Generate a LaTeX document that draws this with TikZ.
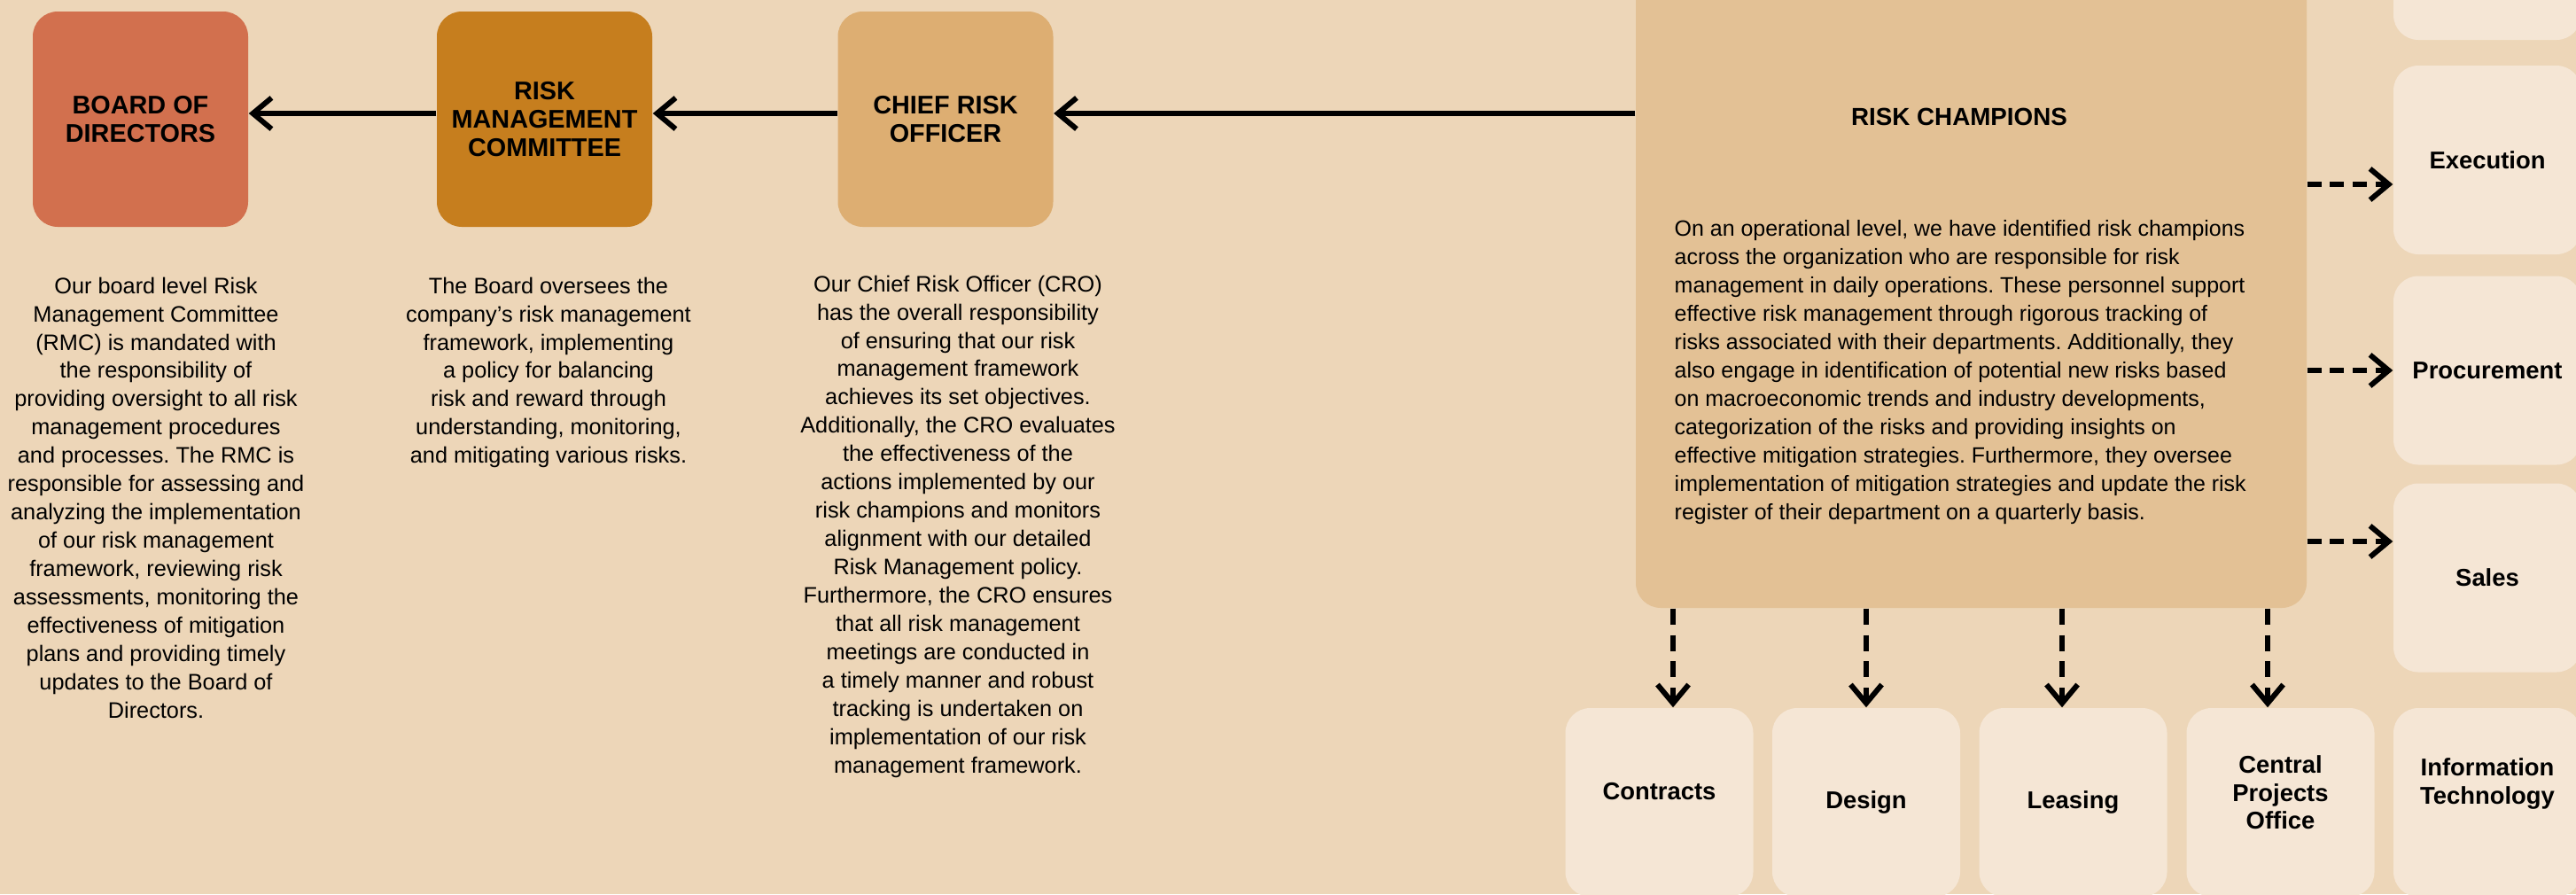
\documentclass[tikz,border=0pt]{standalone}
\usepackage{fontspec}
\setmainfont{Liberation Sans}
\frenchspacing
\usetikzlibrary{arrows.meta,positioning}
\definecolor{pagebg}{RGB}{237,214,184}
\definecolor{boardred}{RGB}{210,112,78}
\definecolor{rmcgold}{RGB}{198,126,30}
\definecolor{crotan}{RGB}{221,174,114}
\definecolor{champtan}{RGB}{227,193,149}
\definecolor{deptcream}{RGB}{245,230,213}

\begin{document}
\begin{tikzpicture}[
  >={Straight Barb[length=6pt,width=10pt]},
  role/.style={rounded corners=8pt,minimum width=24.3mm,minimum height=24.3mm,align=center,inner sep=0pt,font=\fontsize{8.2}{9}\selectfont\bfseries},
  panel/.style={fill=champtan,rounded corners=8pt,minimum width=75.7mm,minimum height=71.7mm,inner sep=0pt},
  dept/.style={fill=deptcream,rounded corners=8pt,minimum width=21.2mm,minimum height=21.3mm,align=center,inner sep=0pt,font=\fontsize{7.8}{9}\selectfont\bfseries},
  body/.style={align=center,inner sep=0pt,font=\fontsize{7.2}{9.1}\selectfont},
  reportline/.style={->,line width=1.7pt},
  sidelink/.style={->,line width=1.7pt,dash pattern=on 4.5pt off 2.8pt},
  droplink/.style={->,line width=1.7pt,dash pattern=on 5.1pt off 3.4pt}
]
  \useasboundingbox (0,0) rectangle (29.07,10.09);
  \clip (0,0) rectangle (29.07,10.09);
  \fill[pagebg] (0,0) rectangle (29.07,10.09);

  \node[role,fill=boardred] (board) at (1.585,8.745) {BOARD OF\\DIRECTORS};
  \node[role,fill=rmcgold] (rmc) at (6.145,8.745) {RISK\\MANAGEMENT\\COMMITTEE};
  \node[role,fill=crotan] (cro) at (10.67,8.745) {CHIEF RISK\\OFFICER};
  \node[panel] (champ) at (22.245,6.815) {};
  \node[font=\fontsize{7.9}{9}\selectfont\bfseries] (champhead) at (22.11,8.77) {RISK CHAMPIONS};

  \node[body,anchor=north] (boardtxt) at (1.76,6.97) {Our board level Risk\\Management Committee\\(RMC) is mandated with\\the responsibility of\\providing oversight to all risk\\management procedures\\and processes. The RMC is\\responsible for assessing and\\analyzing the implementation\\of our risk management\\framework, reviewing risk\\assessments, monitoring the\\effectiveness of mitigation\\plans and providing timely\\updates to the Board of\\Directors.};
  \node[body,anchor=north] (rmctxt) at (6.19,6.97) {The Board oversees the\\company's risk management\\framework, implementing\\a policy for balancing\\risk and reward through\\understanding, monitoring,\\and mitigating various risks.};
  \node[body,anchor=north] (crotxt) at (10.81,6.99) {Our Chief Risk Officer (CRO)\\has the overall responsibility\\of ensuring that our risk\\management framework\\achieves its set objectives.\\Additionally, the CRO evaluates\\the effectiveness of the\\actions implemented by our\\risk champions and monitors\\alignment with our detailed\\Risk Management policy.\\Furthermore, the CRO ensures\\that all risk management\\meetings are conducted in\\a timely manner and robust\\tracking is undertaken on\\implementation of our risk\\management framework.};
  \node[body,align=left,anchor=north west,font=\fontsize{7.1}{9.1}\selectfont] (champtxt) at (18.89,7.61) {On an operational level, we have identified risk champions\\across the organization who are responsible for risk\\management in daily operations. These personnel support\\effective risk management through rigorous tracking of\\risks associated with their departments. Additionally, they\\also engage in identification of potential new risks based\\on macroeconomic trends and industry developments,\\categorization of the risks and providing insights on\\effective mitigation strategies. Furthermore, they oversee\\implementation of mitigation strategies and update the risk\\register of their department on a quarterly basis.};

  \node[dept] (upper) at (28.07,10.705) {};
  \node[dept] (exec) at (28.07,8.285) {Execution};
  \node[dept] (proc) at (28.07,5.91) {Procurement};
  \node[dept] (sales) at (28.07,3.57) {Sales};
  \node[dept] (infotech) at (28.07,1.035) {Information\\Technology\\[4.6pt]};
  \node[dept] (contracts) at (18.725,1.035) {Contracts\\[-1.6pt]};
  \node[dept] (design) at (21.06,1.035) {Design};
  \node[dept] (leasing) at (23.395,1.035) {Leasing};
  \node[dept] (cpo) at (25.735,1.035) {Central\\Projects\\Office\\[-2.6pt]};

  \draw[reportline] ([yshift=0.65mm]rmc.west) -- ([yshift=0.65mm]board.east);
  \draw[reportline] ([yshift=0.65mm]cro.west) -- ([yshift=0.65mm]rmc.east);
  \draw[reportline] ([yshift=0.65mm]champ.west |- cro.east) -- ([yshift=0.65mm]cro.east);

  \coordinate (toexec) at ([yshift=-2.75mm]exec.west);
  \coordinate (tosales) at ([yshift=4.1mm]sales.west);
  \draw[sidelink] (champ.east |- toexec) -- (toexec);
  \draw[sidelink] (champ.east |- proc.west) -- (proc.west);
  \draw[sidelink] (champ.east |- tosales) -- (tosales);

  \coordinate (tocontracts) at ([xshift=1.55mm]contracts.north);
  \coordinate (toleasing) at ([xshift=-1.25mm]leasing.north);
  \coordinate (tocpo) at ([xshift=-1.45mm]cpo.north);
  \draw[droplink] (champ.south -| tocontracts) -- (tocontracts);
  \draw[droplink] (champ.south -| design.north) -- (design.north);
  \draw[droplink] (champ.south -| toleasing) -- (toleasing);
  \draw[droplink] (champ.south -| tocpo) -- (tocpo);
\end{tikzpicture}
\end{document}
